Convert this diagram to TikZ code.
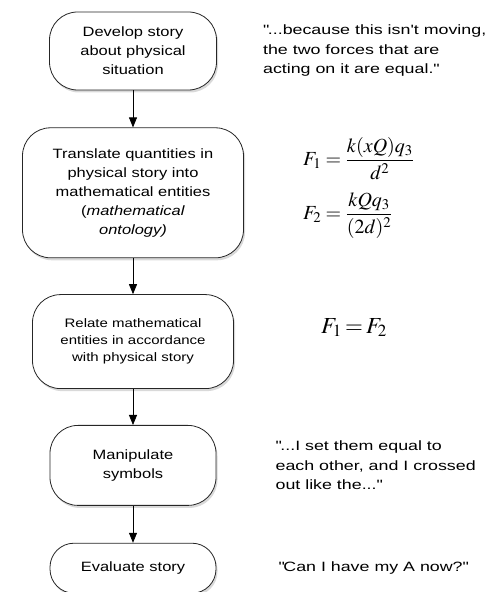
\documentclass[tikz,border=0pt]{standalone}
\usepackage{mathptmx}
\usepackage{fontspec}
\setmainfont{Liberation Sans}[FakeStretch=1.22]
\newfontfamily\quotefont{Liberation Sans}[FakeStretch=1.32]
\usepackage{tikz}
\usetikzlibrary{arrows.meta,positioning,shadows}
\tikzset{
    flowbox/.style={draw=black!85, line width=0.8pt, fill=white, rounded corners=28pt, align=center,
        font=\fontsize{13.5}{19}\selectfont,
        drop shadow={opacity=0.3, shadow xshift=1.5pt, shadow yshift=-2.5pt}},
    quotetext/.style={align=left, anchor=west, font=\quotefont\fontsize{13.5}{19.5}\selectfont, inner sep=0pt},
    mathtext/.style={anchor=west, inner sep=0pt},
    flowarrow/.style={-{Triangle[length=10pt,width=8pt]}, line width=0.8pt}
}
\begin{document}
\begin{tikzpicture}[x=1pt, y=1pt]
        \useasboundingbox (0,0) rectangle (493,592);
        \node[flowbox, minimum width=167pt, minimum height=78pt] (story) at (133,541) {Develop story\\about physical\\situation};
        \node[flowbox, minimum width=221pt, minimum height=130pt, below=37pt of story] (translate) {Translate quantities in\\physical story into\\mathematical entities\\(\textit{mathematical}\\\textit{ontology)}};
        \node[flowbox, minimum width=201pt, minimum height=94pt, below=36pt of translate, font=\fontsize{12.3}{17}\selectfont] (relate) {Relate mathematical\\entities in accordance\\with physical story};
        \node[flowbox, minimum width=166pt, minimum height=80pt, below=36pt of relate] (manip) {Manipulate\\symbols};
        \node[flowbox, minimum width=166pt, minimum height=50pt, rounded corners=24pt, below=37pt of manip] (evaluate) {Evaluate story};

        \draw[flowarrow] (story.south) -- (translate.north);
        \draw[flowarrow] (translate.south) -- (relate.north);
        \draw[flowarrow] (relate.south) -- (manip.north);
        \draw[flowarrow] (manip.south) -- (evaluate.north);

        \node[quotetext, right=46pt of story] (q1) {\textquotedbl...because this isn't moving,\\the two forces that are\\acting on it are equal.\textquotedbl};
        \node[mathtext, right=59pt of translate, yshift=5pt, align=left, font=\fontsize{20}{22}\selectfont] (ont) {$\displaystyle F_1=\frac{k(xQ)q_3}{d^2}$\\[12pt]$\displaystyle F_2=\frac{kQq_3}{(2d)^2}$};
        \node[mathtext, right=87pt of relate, yshift=14pt, font=\fontsize{23}{25}\selectfont] (eq) {$F_1\mkern-1.5mu=\mkern-1.5mu F_2$};
        \node[quotetext, right=59pt of manip] (q4) {\textquotedbl...I set them equal to\\each other, and I crossed\\out like the...\textquotedbl};
        \node[quotetext, right=62pt of evaluate] (q5) {\textquotedbl Can I have my A now?\textquotedbl};
    \end{tikzpicture}
\end{document}
